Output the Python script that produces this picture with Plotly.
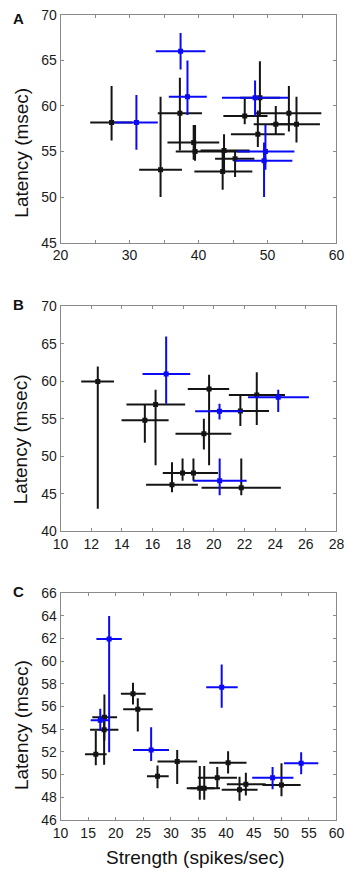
import plotly.graph_objects as go

# ---------------- Panel A data ----------------
a_blk_x   = [27.4, 34.5, 37.3, 39.3, 39.5, 43.5, 43.7, 45.3, 46.7, 48.9, 48.6, 51.2, 53.1, 54.2]
a_blk_xlo = [24.3, 31.4, 34.1, 35.5, 36.7, 39.4, 40.3, 42.4, 43.6, 46.0, 44.7, 48.0, 48.3, 50.5]
a_blk_xhi = [30.4, 37.6, 40.5, 43.0, 47.4, 47.8, 47.4, 48.1, 50.0, 51.8, 52.5, 54.5, 57.8, 57.6]
a_blk_y   = [58.2, 53.0, 59.2, 56.0, 55.0, 52.8, 55.1, 54.2, 58.9, 60.9, 56.9, 58.0, 59.2, 58.0]
a_blk_ylo = [56.2, 50.0, 55.1, 54.1, 54.0, 50.8, 52.8, 52.2, 58.0, 58.9, 55.5, 56.9, 57.2, 56.0]
a_blk_yhi = [62.2, 61.0, 63.1, 57.9, 57.9, 55.0, 56.9, 55.1, 60.8, 64.9, 59.5, 60.0, 62.2, 61.0]

a_blu_x   = [31.0, 37.4, 38.4, 48.2, 49.7, 49.5]
a_blu_xlo = [27.8, 33.8, 35.7, 43.4, 45.6, 45.3]
a_blu_xhi = [34.1, 41.0, 41.2, 53.0, 53.9, 53.6]
a_blu_y   = [58.2, 66.0, 61.0, 60.9, 55.0, 54.0]
a_blu_ylo = [55.2, 64.0, 59.0, 58.9, 53.0, 50.0]
a_blu_yhi = [61.2, 68.0, 65.0, 62.8, 57.9, 56.0]

# ---------------- Panel B data ----------------
b_blk_x   = [12.43, 15.5, 16.2, 19.69, 19.35, 21.73, 22.8, 17.27, 17.96, 18.67, 21.79]
b_blk_xlo = [11.35, 13.98, 14.3, 18.3, 17.5, 19.8, 20.98, 15.58, 16.67, 17.0, 19.2]
b_blk_xhi = [13.49, 17.05, 18.13, 21.0, 21.14, 23.6, 24.64, 18.96, 19.3, 20.27, 24.37]
b_blk_y   = [60.0, 54.8, 56.9, 58.97, 53.0, 56.04, 58.2, 46.2, 47.76, 47.76, 45.8]
b_blk_ylo = [43.0, 51.8, 48.8, 48.8, 50.9, 54.04, 54.17, 45.2, 46.75, 46.75, 44.8]
b_blk_yhi = [62.0, 56.9, 58.9, 60.9, 55.0, 58.18, 61.23, 49.2, 49.7, 49.7, 49.7]

b_blu_x   = [16.89, 20.37, 24.2, 20.38]
b_blu_xlo = [15.35, 18.78, 22.23, 18.65]
b_blu_xhi = [18.46, 21.89, 26.2, 22.14]
b_blu_y   = [61.0, 56.0, 57.87, 46.75]
b_blu_ylo = [57.0, 54.9, 55.9, 44.8]
b_blu_yhi = [66.0, 57.0, 58.88, 49.7]

# ---------------- Panel C data ----------------
c_blk_x   = [16.39, 17.95, 17.9, 23.13, 24.0, 27.57, 31.14, 35.23, 36.04, 38.4, 40.36, 42.43, 43.58, 50.03]
c_blk_xlo = [14.44, 15.76, 15.36, 20.94, 21.35, 25.67, 27.57, 32.87, 33.5, 34.88, 36.95, 39.2, 40.13, 46.6]
c_blk_xhi = [18.35, 20.25, 20.49, 25.43, 26.7, 29.6, 34.76, 37.94, 38.9, 41.97, 43.7, 45.7, 47.15, 53.5]
c_blk_y   = [51.8, 55.05, 53.96, 57.12, 55.77, 49.86, 51.16, 48.8, 48.8, 49.72, 51.04, 48.65, 49.14, 49.08]
c_blk_ylo = [50.81, 53.0, 50.87, 56.17, 53.8, 48.8, 49.17, 47.78, 47.78, 48.8, 50.1, 47.7, 48.16, 48.08]
c_blk_yhi = [53.84, 57.07, 55.0, 58.1, 56.72, 50.8, 52.17, 50.76, 50.76, 50.67, 52.06, 49.8, 50.15, 51.0]

c_blu_x   = [18.81, 17.2, 26.42, 39.2, 48.42, 53.6]
c_blu_xlo = [16.5, 15.47, 23.13, 36.4, 44.73, 50.5]
c_blu_xhi = [21.1, 18.93, 29.65, 42.1, 52.2, 56.7]
c_blu_y   = [61.96, 54.8, 52.17, 57.7, 49.72, 51.0]
c_blu_ylo = [51.97, 53.84, 51.19, 55.9, 48.7, 50.03]
c_blu_yhi = [63.99, 55.8, 54.18, 59.7, 50.67, 51.97]

# ---------------- Tick labels ----------------
a_xticks = [20, 25, 30, 35, 40, 45, 50, 55, 60]
a_xtext = ["20", "", "30", "", "40", "", "50", "", "60"]
b_xticks = [10, 12, 14, 16, 18, 20, 22, 24, 26, 28]
c_xticks = [10, 15, 20, 25, 30, 35, 40, 45, 50, 55, 60]
panel_letters = ["A", "B", "C"]
ytitle = "Latency (msec)"
xtitle = "Strength (spikes/sec)"

W, H = 355, 877
BLACK = "#141414"
BLUE = "#0a0af5"
FONT = "Liberation Sans, Arial, Helvetica, sans-serif"


def px_x(p):
    return p / W


def px_y(p):
    return 1 - p / H


fig = go.Figure()


def add_series(x, xlo, xhi, y, ylo, yhi, color, xa, ya):
    fig.add_trace(go.Scatter(
        x=x, y=y, mode="markers", xaxis=xa, yaxis=ya,
        marker=dict(symbol="square", size=5, color=color),
        error_x=dict(type="data", symmetric=False,
                     array=[h - v for h, v in zip(xhi, x)],
                     arrayminus=[v - l for l, v in zip(xlo, x)],
                     width=0, thickness=2, color=color),
        error_y=dict(type="data", symmetric=False,
                     array=[h - v for h, v in zip(yhi, y)],
                     arrayminus=[v - l for l, v in zip(ylo, y)],
                     width=0, thickness=2, color=color),
        showlegend=False, hoverinfo="skip"))


add_series(a_blk_x, a_blk_xlo, a_blk_xhi, a_blk_y, a_blk_ylo, a_blk_yhi, BLACK, "x", "y")
add_series(a_blu_x, a_blu_xlo, a_blu_xhi, a_blu_y, a_blu_ylo, a_blu_yhi, BLUE, "x", "y")
add_series(b_blk_x, b_blk_xlo, b_blk_xhi, b_blk_y, b_blk_ylo, b_blk_yhi, BLACK, "x2", "y2")
add_series(b_blu_x, b_blu_xlo, b_blu_xhi, b_blu_y, b_blu_ylo, b_blu_yhi, BLUE, "x2", "y2")
add_series(c_blk_x, c_blk_xlo, c_blk_xhi, c_blk_y, c_blk_ylo, c_blk_yhi, BLACK, "x3", "y3")
add_series(c_blu_x, c_blu_xlo, c_blu_xhi, c_blu_y, c_blu_ylo, c_blu_yhi, BLUE, "x3", "y3")

xdom = [px_x(55), px_x(344)]
panels = [(7, 239), (304, 533), (596, 827)]

common = dict(showline=True, linecolor="#8a8a8a", linewidth=1, mirror="ticks",
              ticks="inside", ticklen=3, tickcolor="#8a8a8a", showgrid=False,
              zeroline=False, tickfont=dict(family=FONT, size=14, color="#1a1a1a"))

fig.update_layout(
    width=W, height=H, autosize=False,
    margin=dict(l=0, r=0, t=0, b=0),
    paper_bgcolor="white", plot_bgcolor="white",
    xaxis=dict(domain=xdom, anchor="y", range=[20, 60], tickvals=a_xticks, ticktext=a_xtext, **common),
    yaxis=dict(domain=[px_y(panels[0][1]), px_y(panels[0][0])], anchor="x", range=[45, 70], dtick=5, **common),
    xaxis2=dict(domain=xdom, anchor="y2", range=[10, 28], tickvals=b_xticks, **common),
    yaxis2=dict(domain=[px_y(panels[1][1]), px_y(panels[1][0])], anchor="x2", range=[40, 70], dtick=5, **common),
    xaxis3=dict(domain=xdom, anchor="y3", range=[10, 60], tickvals=c_xticks, **common),
    yaxis3=dict(domain=[px_y(panels[2][1]), px_y(panels[2][0])], anchor="x3", range=[46, 66], dtick=2, **common),
)

ann = []
letter_y = [11, 302, 594]
title_y = [147, 439, 730]
for i in range(3):
    ann.append(dict(text="<b>%s</b>" % panel_letters[i], x=px_x(11), y=px_y(letter_y[i]),
                    xref="paper", yref="paper", showarrow=False, xanchor="center", yanchor="middle",
                    font=dict(family=FONT, size=15, color="#111")))
    ann.append(dict(text=ytitle, x=px_x(14), y=px_y(title_y[i]), textangle=-90,
                    xref="paper", yref="paper", showarrow=False, xanchor="center", yanchor="middle",
                    font=dict(family=FONT, size=19, color="#111")))
ann.append(dict(text=xtitle, x=px_x(196), y=px_y(865), xref="paper", yref="paper",
                showarrow=False, xanchor="center", yanchor="middle",
                font=dict(family=FONT, size=19, color="#111")))
fig.update_layout(annotations=ann)

fig.write_html("out.html", config={"displayModeBar": False},
               post_script="document.body.style.margin='0';document.body.style.overflow='hidden';")
